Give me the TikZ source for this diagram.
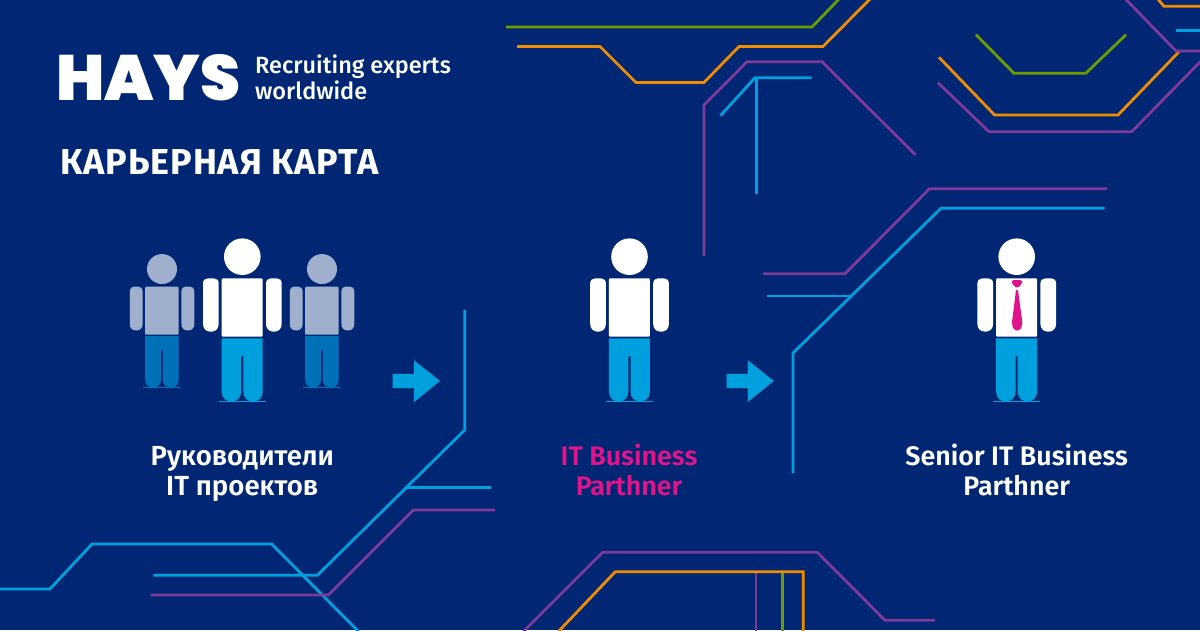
\documentclass[tikz,border=0pt]{standalone}
\usepackage{fontspec}
\setmainfont{Fira Sans}[BoldFont={Fira Sans SemiBold}]
\newfontfamily\logofont{Poppins Black}
\newfontfamily\slogfont{Fira Sans Medium}
\newfontfamily\titlefont{Fira Sans Bold}
\usetikzlibrary{positioning}
\definecolor{haysblue}{RGB}{0,38,116}
\definecolor{lineblue}{RGB}{0,160,222}
\definecolor{linepurple}{RGB}{125,58,152}
\definecolor{lineorange}{RGB}{240,140,0}
\definecolor{linegreen}{RGB}{110,155,0}
\definecolor{legdark}{RGB}{0,112,184}
\definecolor{shirtgrey}{RGB}{160,175,206}
\definecolor{tiepink}{RGB}{224,20,138}

\tikzset{
    trace/.style={line width=2.8pt, line join=miter},
    label/.style={text=white, align=center, inner sep=0pt, anchor=base, font=\fontsize{26.8}{30}\selectfont\bfseries},
    pics/person/.style 2 args={code={
        \fill[#1] (0,0) circle[radius=18.3];
        \fill[#1, rounded corners=1pt] (-20.6,21.6) rectangle (20.4,80);
        \fill[#1] (-39.3,27) .. controls (-39.3,23.5) and (-37.3,21.6) .. (-34.3,21.6) -- (-28.6,21.6)
            .. controls (-25.6,21.6) and (-23.6,23.5) .. (-23.6,27) -- (-23.6,67)
            .. controls (-23.6,72) and (-26.6,75) .. (-31.45,75)
            .. controls (-36.3,75) and (-39.3,72) .. (-39.3,67) -- cycle;
        \fill[#1] (23.7,27) .. controls (23.7,23.5) and (25.7,21.6) .. (28.7,21.6) -- (34.4,21.6)
            .. controls (37.4,21.6) and (39.4,23.5) .. (39.4,27) -- (39.4,67)
            .. controls (39.4,72) and (36.4,75) .. (31.55,75)
            .. controls (26.7,75) and (23.7,72) .. (23.7,67) -- cycle;
        \fill[#2] (-20.6,81.6) -- (-20.6,135) .. controls (-20.6,148) and (-1.2,148) .. (-1.2,135)
            -- (-1.2,99.3) -- (1,99.3) -- (1,135) .. controls (1,148) and (20.4,148) .. (20.4,135)
            -- (20.4,81.6) -- cycle;
        \draw[#2, line width=1pt] (-23.6,144.3) -- (23.7,144.3);
    }},
    pics/blockarrow/.style={code={
        \fill[lineblue] (0,-7.2) -- (21.3,-7.2) -- (21.3,-20.7) -- (47.3,0) -- (21.3,21) -- (21.3,7.2) -- (0,7.2) -- cycle;
    }}
}

\begin{document}
\begin{tikzpicture}[x=1pt, y=-1pt]

    % 1. background
    \fill[haysblue] (0,0) rectangle (1200,630);
    \useasboundingbox (0,0) rectangle (1200,630);

    % 2. traces, top
    \draw[trace, linegreen] (506,27) -- (812,27) -- (840,-2);
    \draw[trace, lineorange] (517,46.5) -- (600,46.5) -- (636,82.5) -- (704,82.5) -- (739,46.5) -- (823,46.5) -- (871,-2);
    \draw[trace, linepurple] (704,256) -- (704,105) -- (747,61.7) -- (822,61.7) -- (915.6,155);
    \draw[trace, lineblue] (720.5,115.7) -- (755,77.7) -- (811.6,77.7);
    \draw[trace, lineblue] (756.7,77.7) -- (756.7,194);
    \draw[trace, linegreen] (976,34.7) -- (1014,73.3) -- (1085.7,73.3) -- (1126,34.7);
    \draw[trace, lineorange] (939,57.3) -- (994.6,115) -- (1118,115) -- (1179,51.7);
    \draw[trace, linepurple] (938,82.7) -- (989,131.7) -- (1131.7,131.7) -- (1202,60);
    \draw[trace, linepurple] (1124.5,-2) -- (1176,51) -- (1202,51);
    \draw[trace, lineorange] (1157,-2) -- (1164,6.3) -- (1202,6.3);
    \draw[trace, lineblue] (1176,30.3) -- (1202,30.3);

    % 3. traces, right of the middle
    \draw[trace, linepurple] (763,273.7) -- (845,273.7) -- (929.5,188.7) -- (1107,188.7);
    \draw[trace, lineblue] (1104.5,208.3) -- (941,208.3) -- (793,353) -- (793,473);
    \draw[trace, lineblue] (767,296) -- (851,296);

    % 4. traces, bottom left
    \draw[trace, lineblue] (-2,589) -- (50,589) -- (92,544) -- (271.7,544) -- (359,632);
    \draw[trace, lineblue] (153.3,575.3) -- (317.3,575.3) -- (464.7,430) -- (464.7,310);
    \draw[trace, lineblue] (407.3,487.7) -- (490.7,487.7);
    \draw[trace, linepurple] (150.7,595) -- (328.3,595) -- (413.3,510) -- (495,510);

    % 5. traces, bottom middle
    \draw[trace, linepurple] (523,632) -- (602.7,552.3) -- (817.3,552.3) -- (885,620.3) -- (935,620.3);
    \draw[trace, linepurple] (756,571.7) -- (756,632);
    \draw[trace, linegreen] (782.3,571.7) -- (782.3,632);
    \draw[trace, lineorange] (558,632) -- (615.3,571.7) -- (803.3,571.7) -- (803.3,632);

    % 6. logo and title
    \node (hays) at (56,77.5) [anchor=west, inner sep=0pt, text=white,
        font=\fontsize{64}{64}\selectfont\logofont] {HAYS};
    \node (slogan) at (255,77) [anchor=west, inner sep=0pt, text=white, align=left,
        font=\fontsize{23.5}{26}\selectfont\slogfont] {Recruiting experts\\worldwide};
    \node (title) at (60,162) [anchor=west, inner sep=0pt, text=white,
        font=\fontsize{36}{36}\selectfont\titlefont\addfontfeature{LetterSpace=2.6}] {КАРЬЕРНАЯ КАРТА};

    % 7. people
    \pic at (162,269) [scale=0.82] {person={shirtgrey}{legdark}};
    \pic at (322,269) [scale=0.82] {person={shirtgrey}{legdark}};
    \pic at (242.3,256.7) {person={white}{lineblue}};
    \pic at (629.5,256.7) {person={white}{lineblue}};
    \pic at (1016.7,256.7) {person={white}{lineblue}};

    % the tie
    \fill[tiepink] (1011.7,281) .. controls (1013,279.5) and (1020.5,279.5) .. (1022.3,281)
        .. controls (1022.3,284) and (1019,287.5) .. (1017,287.5)
        .. controls (1015,287.5) and (1011.7,284) .. (1011.7,281) -- cycle;
    \fill[tiepink] (1016,290) -- (1018,290) -- (1022.3,322)
        .. controls (1022.6,333.5) and (1011.7,333.5) .. (1012,322) -- cycle;

    % 8. arrows
    \pic at (392.7,381) {blockarrow};
    \pic at (726.5,381) {blockarrow};

    % 9. captions
    \node[label, font=\fontsize{27.6}{30}\selectfont\bfseries] (managers) at (242.3,495) {Руководители\\IT проектов};
    \node[label, text=tiepink] (partner) at (629,495) {IT Business\\Parthner};
    \node[label] (senior) at (1016.7,495) {Senior IT Business\\Parthner};

\end{tikzpicture}
\end{document}
